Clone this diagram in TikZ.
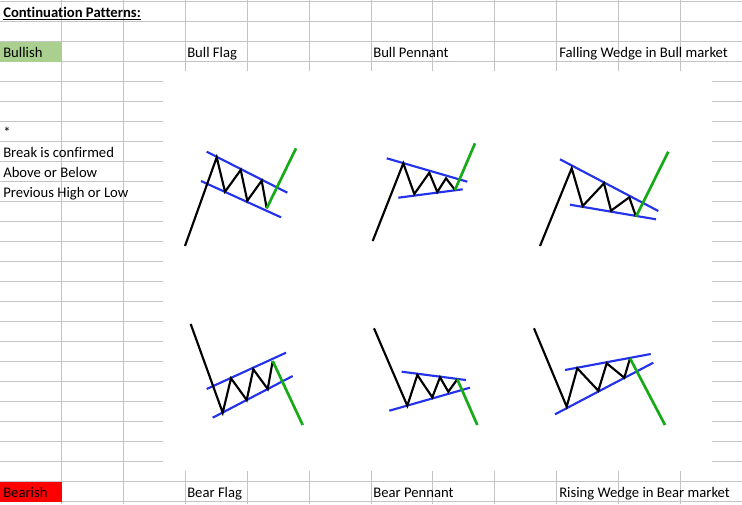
\documentclass[tikz,border=0pt]{standalone}
\usepackage{fontspec}
\setmainfont{Carlito}[Ligatures={NoCommon}]
\usepackage{xcolor}
\definecolor{colorGrid}{RGB}{196,196,196}
\definecolor{colorBullish}{RGB}{169,208,142}
\definecolor{colorBearish}{RGB}{255,0,0}
\definecolor{colorChannel}{RGB}{35,50,235}
\definecolor{colorBreak}{RGB}{22,170,22}
\usetikzlibrary{positioning}
\tikzset{cell/.style={anchor=base west, inner sep=0pt, font=\fontsize{11}{13}\selectfont}}
\tikzset{price/.style={black, line width=1.6pt}}
\tikzset{channel/.style={colorChannel, line width=1.6pt}}
\tikzset{breakout/.style={colorBreak, line width=2pt}}

\begin{document}
\begin{tikzpicture}[x=0.75pt, y=-0.75pt]
\useasboundingbox (0,0) rectangle (742,504);
\fill[white] (0,0) rectangle (742,504);
% sheet grid
\foreach \r in {0,...,25}
  \draw[colorGrid, line width=0.75pt] (0,1.7+20*\r) -- (742,1.7+20*\r);
\foreach \c in {1,...,12}
  \draw[colorGrid, line width=0.75pt] (61.85*\c,0) -- (61.85*\c,504);
% pasted picture
\fill[white] (163,71) rectangle (712,471);
% cells
\fill[colorBullish] (0,41.7) rectangle (61.85,61.7);
\fill[colorBearish] (0,481.7) rectangle (61.85,501.7);
\node[cell] (title) at (3,17.5) {\textbf{\underline{Continuation Patterns:}}};
\node[cell] (bullish) at (3,57.5) {Bullish};
\node[cell] (bullflag) at (187,57.5) {Bull Flag};
\node[cell] (bullpennant) at (373,57.5) {Bull Pennant};
\node[cell] (fallingwedge) at (559,57.5) {Falling Wedge in Bull market};
\node[cell] (star) at (3,137.5) {*};
\node[cell] (note1) at (3,157.5) {Break is confirmed};
\node[cell] (note2) at (3,177.5) {Above or Below};
\node[cell] (note3) at (3,197.5) {Previous High or Low};
\node[cell] (bearish) at (3,497.5) {Bearish};
\node[cell] (bearflag) at (187,497.5) {Bear Flag};
\node[cell] (bearpennant) at (373,497.5) {Bear Pennant};
\node[cell] (risingwedge) at (559,497.5) {Rising Wedge in Bear market};
% bull flag
\draw[channel] (206.7,151.7) -- (287.3,192.7);
\draw[channel] (201,181) -- (281,217.3);
\draw[price] (185,246) -- (216.7,157.3) -- (225,191.7) -- (240.7,170) -- (247.3,200.7) -- (261.7,180.7) -- (266.7,208.3);
\draw[breakout] (266.7,208.3) -- (296,148.3);
% bull pennant
\draw[channel] (386.7,158.3) -- (467.3,181.7);
\draw[channel] (398.3,197.7) -- (462.7,189.3);
\draw[price] (372.7,241) -- (403.3,163.3) -- (414.3,194) -- (429.3,172.7) -- (437.3,192) -- (446,178.3) -- (455,190);
\draw[breakout] (455,190) -- (475,143.3);
% falling wedge
\draw[channel] (560,159.3) -- (658.3,211);
\draw[channel] (570,204.7) -- (656,219.3);
\draw[price] (540,246) -- (571.7,168.3) -- (582.7,206) -- (604,183.3) -- (611,210.7) -- (629.3,197.3) -- (636,216.7);
\draw[breakout] (636,216.7) -- (668.3,151.7);
% bear flag
\draw[channel] (206.7,389) -- (286,352.7);
\draw[channel] (212.7,417.7) -- (292.7,376);
\draw[price] (190.7,324) -- (222.7,412.7) -- (231,378.3) -- (246.7,400) -- (253.3,369.3) -- (267.7,389) -- (272.7,361);
\draw[breakout] (272.7,361) -- (302.7,425);
% bear pennant
\draw[channel] (401.7,371.7) -- (466,380);
\draw[channel] (389.3,410.7) -- (470,387.7);
\draw[price] (374,328.3) -- (407.3,405.7) -- (417.3,375) -- (432.3,397.3) -- (440,377.3) -- (448.3,391.7) -- (457.3,379.3);
\draw[breakout] (457.3,379.3) -- (477.3,425);
% rising wedge
\draw[channel] (565,370) -- (650.7,354);
\draw[channel] (555,414.3) -- (653.3,362.7);
\draw[price] (534,328.3) -- (566.7,406.7) -- (577.3,368.3) -- (598.3,390.7) -- (606.7,363.3) -- (624.3,377.7) -- (630,358.3);
\draw[breakout] (630,358.3) -- (665,425);
\end{tikzpicture}
\end{document}
